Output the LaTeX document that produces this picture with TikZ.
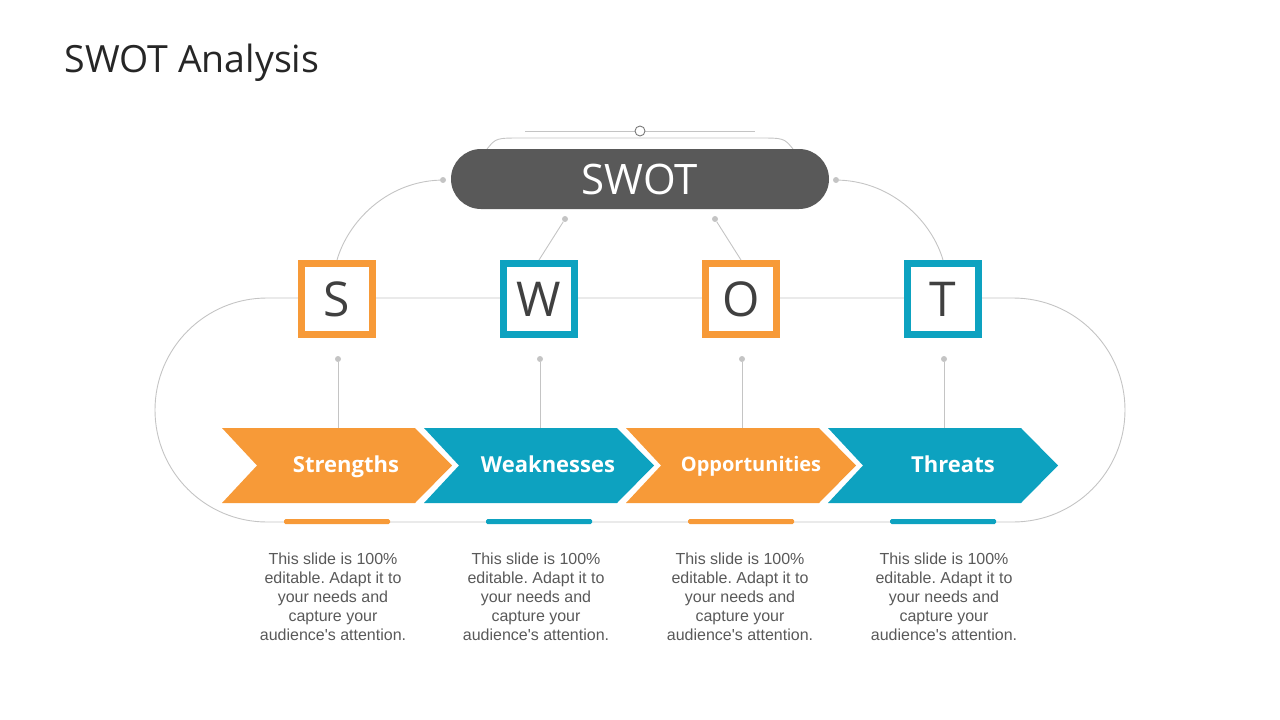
\documentclass[tikz,border=0pt]{standalone}
\usepackage{fontspec}
\setmainfont{Open Sans}
\newfontfamily\notefont{Liberation Sans}
\usepackage{tikz}
\usetikzlibrary{arrows}
\definecolor{swotorange}{HTML}{F79A38}
\definecolor{swotteal}{HTML}{0DA2C0}
\definecolor{swotdark}{HTML}{595959}
\definecolor{swotline}{HTML}{C4C4C4}
\definecolor{swotletter}{HTML}{404040}
\frenchspacing

\begin{document}
\begin{tikzpicture}[x=1pt,y=-1pt]
\tikzset{letterbox/.style = {shape=rectangle,draw,fill=white,line width=7pt,minimum size=71pt,inner sep=0pt,
  text=swotletter,font=\fontsize{48}{48}\selectfont}}
\tikzset{dot/.style = {shape=circle,fill=swotline,minimum size=6pt,inner sep=0pt}}
\tikzset{link/.style = {draw=swotline,line width=0.9pt}}
\tikzset{chevlabel/.style = {anchor=base,text=white,font=\bfseries\fontsize{22}{22}\selectfont}}
\tikzset{note/.style = {align=center,text=swotdark,font=\notefont\fontsize{16}{19}\selectfont}}
\useasboundingbox (0,0) rectangle (1280,720);
% title
\node[anchor=base west,text=black!85,font=\fontsize{37.5}{37.5}\selectfont] (title) at (61,72) {SWOT Analysis};
% top ornament
\coordinate (dl) at (525,131);
\coordinate (dr) at (755,131);
\draw[link] (dl) to (dr);
\draw[link] (487,149) .. controls (496,138) .. (522,138) -- (758,138) .. controls (784,138) .. (793,149);
\node[shape=circle,draw=swotdark!80,fill=white,line width=0.9pt,minimum size=10pt,inner sep=0pt] (knob) at (640,131) {};
% racetrack
\draw[link,rounded corners=112pt] (155,298) rectangle (1125,522);
% swot pill
\node[shape=rectangle,rounded corners=30pt,fill=swotdark,minimum width=378pt,minimum height=60pt,
  text=white,font=\fontsize{42}{42}\selectfont] (swot) at (640,179) {SWOT};
% dots
\node[dot] (ldot) at (443,180) {};
\node[dot] (rdot) at (836,180) {};
\node[dot] (wdot) at (565,219) {};
\node[dot] (odot) at (715,219) {};
\node[dot] (sdot2) at (338,359) {};
\node[dot] (wdot2) at (540,359) {};
\node[dot] (odot2) at (742,359) {};
\node[dot] (tdot2) at (944,359) {};
% letter boxes
\node[letterbox,draw=swotorange] (sbox) at (337,299) {S};
\node[letterbox,draw=swotteal] (wbox) at (539,299) {W};
\node[letterbox,draw=swotorange] (obox) at (741,299) {O};
\node[letterbox,draw=swotteal] (tbox) at (943,299) {T};
% edges
\draw[link] (ldot) .. controls (386,182) and (348,222) .. (sbox.north);
\draw[link] (rdot) .. controls (893,182) and (932,222) .. (tbox.north);
\draw[link] (wdot) to (wbox.north);
\draw[link] (odot) to (obox.north);
\draw[link] (sdot2) to (338,465);
\draw[link] (wdot2) to (540,465);
\draw[link] (odot2) to (742,465);
\draw[link] (tdot2) to (944,465);
% chevrons
\fill[swotorange] (222,428) -- (415,428) -- (452,465.5) -- (415,503) -- (222,503) -- (257,465.5) -- cycle;
\fill[swotteal] (424,428) -- (617,428) -- (654,465.5) -- (617,503) -- (424,503) -- (459,465.5) -- cycle;
\fill[swotorange] (626,428) -- (819,428) -- (856,465.5) -- (819,503) -- (626,503) -- (661,465.5) -- cycle;
\fill[swotteal] (828,428) -- (1021,428) -- (1058,465.5) -- (1021,503) -- (828,503) -- (863,465.5) -- cycle;
\node[chevlabel] (slab) at (346,472) {Strengths};
\node[chevlabel] (wlab) at (548,472) {Weaknesses};
\node[chevlabel,font=\bfseries\fontsize{20}{20}\selectfont] (olab) at (751,471) {Opportunities};
\node[chevlabel] (tlab) at (953,472) {Threats};
% bars
\fill[swotorange,rounded corners=1.5pt] (284,519) rectangle (390,524);
\fill[swotteal,rounded corners=1.5pt] (486,519) rectangle (592,524);
\fill[swotorange,rounded corners=1.5pt] (688,519) rectangle (794,524);
\fill[swotteal,rounded corners=1.5pt] (890,519) rectangle (996,524);
% notes
\node[note,anchor=north] (snote) at (333,549) {This slide is 100\%\\editable. Adapt it to\\your needs and\\capture your\\audience's attention.};
\node[note,anchor=north] (wnote) at (536,549) {This slide is 100\%\\editable. Adapt it to\\your needs and\\capture your\\audience's attention.};
\node[note,anchor=north] (onote) at (740,549) {This slide is 100\%\\editable. Adapt it to\\your needs and\\capture your\\audience's attention.};
\node[note,anchor=north] (tnote) at (944,549) {This slide is 100\%\\editable. Adapt it to\\your needs and\\capture your\\audience's attention.};
\end{tikzpicture}
\end{document}
